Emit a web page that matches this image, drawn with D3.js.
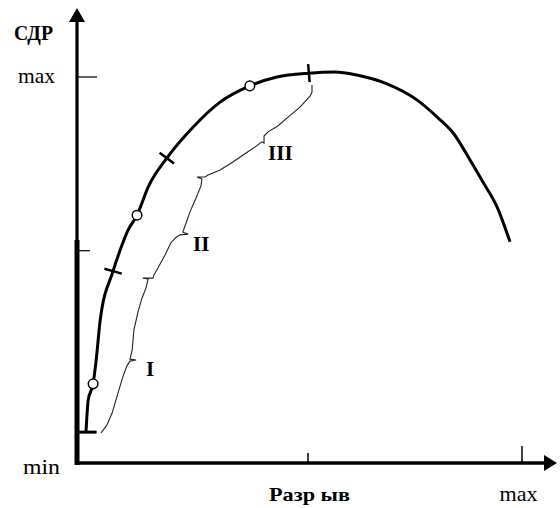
<!DOCTYPE html>
<html><head><meta charset="utf-8">
<script src="https://cdn.jsdelivr.net/npm/d3@7"></script>
<style>html,body{margin:0;padding:0;background:#fff;}svg{display:block;}</style>
</head><body>
<div id="chart"></div>
<script>
// ---- data (abstract units: 0 = min, 100 = max on both axes) ----
const curveX = [1.8, 2.3, 3.4, 4.1, 5.0, 7.9, 9.5, 11.3, 13.3, 15.8, 20.0, 25.9, 32.0, 38.7, 44.8, 52.0, 57.9, 62.8, 69.6, 76.4, 80.9, 84.5, 88.7, 91.2, 94.4, 97.3];
const curveY = [8.0, 16.3, 20.5, 26.7, 37.0, 49.7, 55.2, 60.4, 64.2, 71.5, 79.0, 87.0, 93.5, 97.7, 100.0, 101.0, 101.3, 100.5, 98.2, 94.0, 89.6, 85.5, 77.7, 72.8, 66.3, 57.3];
const circleIdx = [2, 8, 13];
const crossIdx = [5, 10, 15];
const baseSegX = [0, 4.2];
const baseSegY = 8.0;

const braceX = [5.2, 6.5, 7.7, 9.0, 10.1, 11.0, 11.7, 13.1, 11.7, 12.2, 12.6, 13.5, 14.4, 15.3, 15.8, 14.6, 16.9, 17.1, 18.0, 19.6, 20.9, 22.1, 23.0, 24.8, 23.6, 24.1, 25.2, 26.6, 27.7, 27.9, 26.8, 28.6, 29.3, 32.0, 34.9, 37.6, 39.9, 41.4, 41.9, 41.9, 42.8, 45.0, 47.1, 50.0, 52.3, 52.7, 52.7];
const braceY = [7.8, 9.8, 13.0, 18.1, 22.3, 25.1, 26.4, 26.7, 26.9, 29.3, 34.5, 39.1, 42.7, 45.3, 47.7, 47.9, 47.9, 48.7, 50.5, 53.9, 57.0, 58.5, 59.1, 59.3, 59.8, 61.4, 65.0, 68.7, 71.8, 73.6, 74.1, 74.1, 74.6, 75.9, 78.0, 80.1, 81.9, 83.2, 82.9, 84.7, 85.8, 87.3, 89.4, 92.2, 95.1, 96.1, 97.9];

const stageLabels = ["I", "II", "III"];
const stageX = [15.3, 25.9, 42.8];
const stageY = [22.5, 54.9, 78.5];

const xTickValues = [51.8, 100];
const xTickLabels = ["Разр ыв", "max"];
const yTickValues = [100, 55];
const yLabels = ["max", "min"];
const yLabelValues = [100, 0];
const yTitle = "СДР";

// ---- layout ----
const W = 560, H = 508;
const x = d3.scaleLinear().domain([0, 100]).range([78, 522]);
const y = d3.scaleLinear().domain([0, 100]).range([463, 77]);

const svg = d3.select("#chart").append("svg").attr("width", W).attr("height", H);

// axes
const ax = 77;
svg.append("line").attr("x1", ax).attr("x2", ax).attr("y1", 20).attr("y2", 241)
  .attr("stroke", "#000").attr("stroke-width", 3.2);
svg.append("line").attr("x1", ax).attr("x2", ax).attr("y1", 240).attr("y2", y(0) + 2)
  .attr("stroke", "#000").attr("stroke-width", 5);
svg.append("path").attr("d", `M${ax},8 L${ax - 8},22 L${ax + 8},22 Z`).attr("fill", "#000");

svg.append("line").attr("x1", ax - 2).attr("x2", 547).attr("y1", y(0)).attr("y2", y(0))
  .attr("stroke", "#000").attr("stroke-width", 3.5);
svg.append("path").attr("d", `M557,${y(0)} L544,${y(0) - 8} L544,${y(0) + 8} Z`).attr("fill", "#000");

// y ticks
const yTickLen = [20, 13];
yTickValues.forEach((v, i) => {
  svg.append("line").attr("x1", ax).attr("x2", ax + yTickLen[i])
    .attr("y1", y(v)).attr("y2", y(v)).attr("stroke", "#000").attr("stroke-width", 1.2);
});
// x ticks
const xTickLen = [10, 17];
xTickValues.forEach((v, i) => {
  svg.append("line").attr("x1", x(v)).attr("x2", x(v))
    .attr("y1", y(0)).attr("y2", y(0) - xTickLen[i]).attr("stroke", "#000").attr("stroke-width", 1.5);
});

// labels
svg.append("text").text(yTitle).attr("x", 14).attr("y", 40)
  .attr("font-family", "Liberation Serif, Times New Roman, serif").attr("font-weight", "bold")
  .attr("font-size", 21).attr("textLength", 39).attr("lengthAdjust", "spacingAndGlyphs");
const yLabX = [18, 23];
const yLabOff = [6, 11];
yLabels.forEach((t, i) => {
  svg.append("text").text(t).attr("x", yLabX[i]).attr("y", y(yLabelValues[i]) + yLabOff[i])
    .attr("font-family", "Liberation Serif, Times New Roman, serif")
    .attr("font-size", 22).attr("textLength", 37).attr("lengthAdjust", "spacingAndGlyphs");
});
const xLabW = [81, 38];
const xLabWeight = ["bold", "normal"];
const xLabSize = [19, 22];
xTickValues.forEach((v, i) => {
  svg.append("text").text(xTickLabels[i]).attr("x", x(v) + (i === 0 ? 1.5 : -3.5)).attr("y", 501)
    .attr("text-anchor", "middle")
    .attr("font-family", "Liberation Serif, Times New Roman, serif").attr("font-weight", xLabWeight[i])
    .attr("font-size", xLabSize[i]).attr("textLength", xLabW[i]).attr("lengthAdjust", "spacingAndGlyphs");
});

// base segment
svg.append("line").attr("x1", x(baseSegX[0])).attr("x2", x(baseSegX[1]))
  .attr("y1", y(baseSegY)).attr("y2", y(baseSegY)).attr("stroke", "#000").attr("stroke-width", 3);

// brace line
const braceData = braceX.map((v, i) => [v, braceY[i]]);
svg.append("path").datum(braceData)
  .attr("d", d3.line().x(d => x(d[0])).y(d => y(d[1])))
  .attr("fill", "none").attr("stroke", "#222").attr("stroke-width", 1.1);

// main curve
const curveData = curveX.map((v, i) => [v, curveY[i]]);
svg.append("path").datum(curveData)
  .attr("d", d3.line().x(d => x(d[0])).y(d => y(d[1])).curve(d3.curveMonotoneX))
  .attr("fill", "none").attr("stroke", "#000").attr("stroke-width", 3);

// cross marks perpendicular to the curve
crossIdx.forEach(i => {
  const p = [x(curveX[i]), y(curveY[i])];
  const a = [x(curveX[i - 1]), y(curveY[i - 1])];
  const b = [x(curveX[i + 1]), y(curveY[i + 1])];
  let dx = b[0] - a[0], dy = b[1] - a[1];
  const len = Math.hypot(dx, dy);
  const nx = -dy / len, ny = dx / len;
  const h = 9;
  svg.append("line").attr("x1", p[0] - nx * h).attr("y1", p[1] - ny * h)
    .attr("x2", p[0] + nx * h).attr("y2", p[1] + ny * h)
    .attr("stroke", "#000").attr("stroke-width", 2.5);
});

// circles
circleIdx.forEach(i => {
  svg.append("circle").attr("cx", x(curveX[i])).attr("cy", y(curveY[i])).attr("r", 4.8)
    .attr("fill", "#fff").attr("stroke", "#000").attr("stroke-width", 1.5);
});

// stage labels
stageLabels.forEach((t, i) => {
  svg.append("text").text(t).attr("x", x(stageX[i])).attr("y", y(stageY[i]))
    .attr("font-family", "Liberation Serif, Times New Roman, serif").attr("font-weight", "bold")
    .attr("font-size", 21);
});
</script>
</body></html>
